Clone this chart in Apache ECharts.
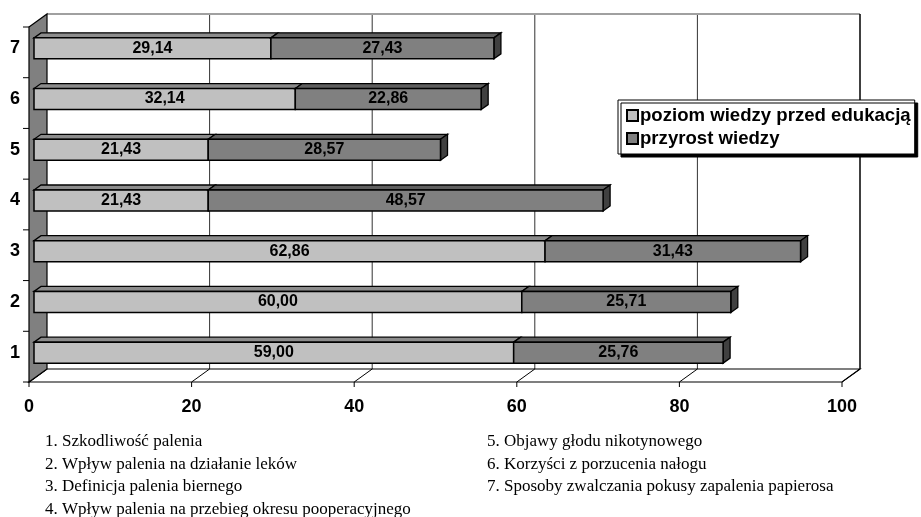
<!DOCTYPE html>
<html>
<head>
<meta charset="utf-8">
<script src="https://cdn.jsdelivr.net/npm/echarts@6/dist/echarts.min.js"></script>
<style>html,body{margin:0;padding:0;background:#fff;}#main{width:921px;height:517px;}</style>
</head>
<body>
<div id="main"></div>
<script>
const categories = ['1', '2', '3', '4', '5', '6', '7'];
const before = [59.00, 60.00, 62.86, 21.43, 21.43, 32.14, 29.14];
const gain = [25.76, 25.71, 31.43, 48.57, 28.57, 22.86, 27.43];
const xTicks = [0, 20, 40, 60, 80, 100];
const seriesNames = ['poziom wiedzy przed edukacją', 'przyrost wiedzy'];
const notesLeft = [
  '1. Szkodliwość palenia',
  '2. Wpływ palenia na działanie leków',
  '3. Definicja palenia biernego',
  '4. Wpływ palenia na przebieg okresu pooperacyjnego'
];
const notesRight = [
  '5. Objawy głodu nikotynowego',
  '6. Korzyści z porzucenia nałogu',
  '7. Sposoby zwalczania pokusy zapalenia papierosa'
];

const fmt = v => v.toFixed(2).replace('.', ',');
const BX = 13, BY = -9, FX = -5, FY = 4; // back / front plane offsets
const DX = 7, DY = -5; // bar depth
const BAR_RATIO = 0.414;
const LIGHT = '#C0C0C0', LIGHT_TOP = '#8c8c8c';
const DARK = '#808080', DARK_TOP = '#5f5f5f', DARK_SIDE = '#404040';
const LBL = {fontFamily: 'Liberation Sans, Arial, sans-serif', fontWeight: 'bold', fontSize: 16, fill: '#000'};

function frameItem(params, api) {
  const cs = params.coordSys;
  const x0 = cs.x, y0 = cs.y, x1 = cs.x + cs.width, y1 = cs.y + cs.height;
  const ch = [];
  ch.push({type: 'rect', shape: {x: x0 + BX, y: y0 + BY, width: cs.width, height: cs.height}, style: {fill: '#fff'}});
  xTicks.forEach(v => {
    if (v === xTicks[0] || v === xTicks[xTicks.length - 1]) return;
    const px = api.coord([v, 0])[0];
    ch.push({type: 'line', shape: {x1: px + BX, y1: y0 + BY, x2: px + BX, y2: y1 + BY}, style: {stroke: '#333', lineWidth: 1}});
  });
  ch.push({type: 'line', shape: {x1: x0 + BX, y1: y0 + BY, x2: x1 + BX, y2: y0 + BY}, style: {stroke: '#a0a0a0', lineWidth: 2}});
  ch.push({type: 'line', shape: {x1: x1 + BX, y1: y0 + BY, x2: x1 + BX, y2: y1 + BY}, style: {stroke: '#000', lineWidth: 1.5}});
  ch.push({type: 'polygon', shape: {points: [[x0 + FX, y1 + FY], [x1 + FX, y1 + FY], [x1 + BX, y1 + BY], [x0 + BX, y1 + BY]]}, style: {fill: '#fff', stroke: '#000', lineWidth: 1.2}});
  xTicks.forEach(v => {
    const px = api.coord([v, 0])[0];
    ch.push({type: 'line', shape: {x1: px + FX, y1: y1 + FY, x2: px + BX, y2: y1 + BY}, style: {stroke: '#000', lineWidth: 1}});
    ch.push({type: 'line', shape: {x1: px + FX, y1: y1 + FY, x2: px + FX, y2: y1 + FY + 5}, style: {stroke: '#000', lineWidth: 1}});
  });
  ch.push({type: 'polygon', shape: {points: [[x0 + FX, y0 + FY], [x0 + BX, y0 + BY], [x0 + BX, y1 + BY], [x0 + FX, y1 + FY]]}, style: {fill: '#808080', stroke: '#000', lineWidth: 1.2}});
  for (let k = 0; k <= categories.length; k++) {
    const y = y0 + FY + k * cs.height / categories.length;
    ch.push({type: 'line', shape: {x1: x0 + FX - 6, y1: y, x2: x0 + FX, y2: y}, style: {stroke: '#000', lineWidth: 1}});
  }
  return {type: 'group', children: ch};
}

function lightItem(params, api) {
  const cat = api.value(0), v = api.value(1);
  const p0 = api.coord([0, cat]), p1 = api.coord([v, cat]);
  const h = api.size([0, 1])[1] * BAR_RATIO;
  const yt = p0[1] - h / 2;
  return {type: 'group', children: [
    {type: 'polygon', shape: {points: [[p0[0], yt], [p1[0], yt], [p1[0] + DX, yt + DY], [p0[0] + DX, yt + DY]]}, style: {fill: LIGHT_TOP, stroke: '#000', lineWidth: 1.3}},
    {type: 'rect', shape: {x: p0[0], y: yt, width: p1[0] - p0[0], height: h}, style: {fill: LIGHT, stroke: '#000', lineWidth: 1.5}},
    {type: 'text', x: (p0[0] + p1[0]) / 2, y: p0[1], style: Object.assign({text: fmt(v), textAlign: 'center', textVerticalAlign: 'middle'}, LBL)}
  ]};
}

function darkItem(params, api) {
  const cat = api.value(0), a = api.value(1), g = api.value(2);
  const p1 = api.coord([a, cat]), p2 = api.coord([a + g, cat]);
  const h = api.size([0, 1])[1] * BAR_RATIO;
  const yt = p1[1] - h / 2;
  return {type: 'group', children: [
    {type: 'polygon', shape: {points: [[p1[0], yt], [p2[0], yt], [p2[0] + DX, yt + DY], [p1[0] + DX, yt + DY]]}, style: {fill: DARK_TOP, stroke: '#000', lineWidth: 1.3}},
    {type: 'polygon', shape: {points: [[p2[0], yt], [p2[0] + DX, yt + DY], [p2[0] + DX, yt + h + DY], [p2[0], yt + h]]}, style: {fill: DARK_SIDE, stroke: '#000', lineWidth: 1.3}},
    {type: 'rect', shape: {x: p1[0], y: yt, width: p2[0] - p1[0], height: h}, style: {fill: DARK, stroke: '#000', lineWidth: 1.5}},
    {type: 'text', x: (p1[0] + p2[0]) / 2, y: p1[1], style: Object.assign({text: fmt(g), textAlign: 'center', textVerticalAlign: 'middle'}, LBL)}
  ]};
}

const chart = echarts.init(document.getElementById('main'), null, {renderer: 'canvas'});
const noteStyle = {fontFamily: 'Liberation Serif, Times New Roman, serif', fontSize: 17, fill: '#000'};
const graphics = [];
notesLeft.forEach((t, i) => graphics.push({type: 'text', left: 45, top: 433 + i * 22.6, style: Object.assign({text: t}, noteStyle)}));
notesRight.forEach((t, i) => graphics.push({type: 'text', left: 487, top: 433 + i * 22.6, style: Object.assign({text: t}, noteStyle)}));

chart.setOption({
  animation: false,
  backgroundColor: '#fff',
  grid: {left: 34, top: 23, width: 813, height: 355, containLabel: false},
  legend: {
    orient: 'vertical', left: 618, top: 100,
    data: seriesNames,
    icon: 'rect', itemWidth: 11, itemHeight: 11, itemGap: 4,
    padding: [6, 4, 6, 8],
    backgroundColor: '#fff', borderColor: '#000', borderWidth: 1,
    shadowColor: '#000', shadowBlur: 0, shadowOffsetX: 3, shadowOffsetY: 3,
    textStyle: {fontFamily: 'Liberation Sans, Arial, sans-serif', fontWeight: 'bold', fontSize: 18.6, color: '#000', padding: [0, 0, 0, -3]},
    selectedMode: false
  },
  xAxis: {
    type: 'value', min: 0, max: 100, interval: 20,
    axisLine: {show: false}, axisTick: {show: false}, splitLine: {show: false},
    axisLabel: {margin: 20, padding: [0, 10, 0, 0], fontFamily: 'Liberation Sans, Arial, sans-serif', fontWeight: 'bold', fontSize: 18, color: '#000'}
  },
  yAxis: {
    type: 'category', data: categories,
    axisLine: {show: false}, axisTick: {show: false}, splitLine: {show: false},
    axisLabel: {margin: 14, padding: [8, 0, 0, 0], fontFamily: 'Liberation Sans, Arial, sans-serif', fontWeight: 'bold', fontSize: 18, color: '#000'}
  },
  series: [
    {type: 'custom', name: 'frame', silent: true, z: 1, renderItem: frameItem, data: [[0, 0]], encode: {x: 0, y: 1}},
    {type: 'custom', name: seriesNames[0], z: 2, renderItem: lightItem, itemStyle: {color: LIGHT, borderColor: '#000', borderWidth: 1},
      data: categories.map((c, i) => [i, before[i]]), encode: {x: 1, y: 0}},
    {type: 'custom', name: seriesNames[1], z: 3, renderItem: darkItem, itemStyle: {color: DARK, borderColor: '#000', borderWidth: 1},
      data: categories.map((c, i) => [i, before[i], gain[i]]), encode: {x: [1, 2], y: 0}}
  ],
  graphic: graphics
});
</script>
</body>
</html>
